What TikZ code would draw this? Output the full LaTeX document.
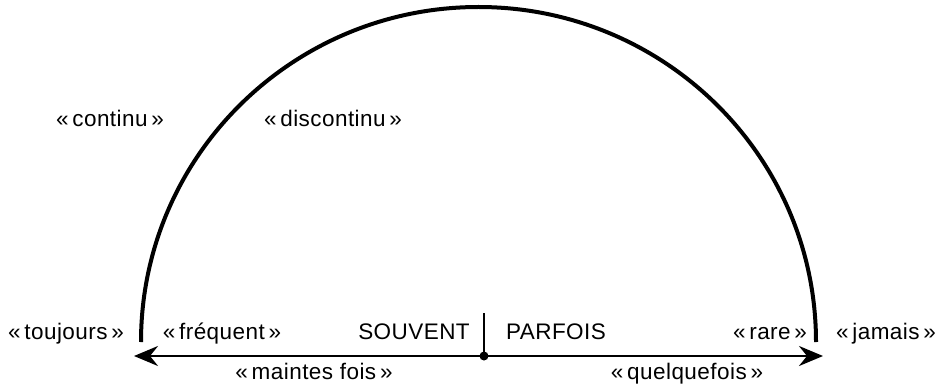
\documentclass[tikz,border=0pt]{standalone}
\usepackage{fontspec}
\setmainfont{Liberation Sans}[LetterSpace=2]
\usetikzlibrary{arrows.meta,positioning}

\begin{document}
\begin{tikzpicture}[
		x=1pt, y=-1pt,
		lbl/.style={inner sep=0pt, anchor=base, font=\fontsize{22.5}{26}\selectfont},
		scale line/.style={line width=2.8pt},
		curve/.style={line width=4pt},
		>={Stealth[length=24pt,width=20pt,inset=8pt]}
	]
	\useasboundingbox (0,0) rectangle (944,385);

	% axis
	\coordinate (mid) at (484,356);
	\coordinate (midtop) at (484,313);
	\coordinate (left) at (134,356);
	\coordinate (right) at (823,356);
	\coordinate (arcL) at (141,342);

	\draw[curve] (arcL) arc[start angle=180, end angle=360, x radius=337.5, y radius=335] coordinate (arcR);

	\draw[scale line,->] (mid) -- (left);
	\draw[scale line,->] (mid) -- (right);
	\draw[line width=1.6pt] (mid) -- (midtop);
	\fill (mid) circle (4.5pt);

	% labels
	\node[lbl] (continu) at (110,126) {«\,continu\,»};
	\node[lbl] (discontinu) at (333,127) {«\,discontinu\,»};
	\node[lbl] (toujours) at (66,339) {«\,toujours\,»};
	\node[lbl] (frequent) at (222,339) {«\,fréquent\,»};
	\node[lbl] (souvent) at (414,339) {SOUVENT};
	\node[lbl] (parfois) at (556,339) {PARFOIS};
	\node[lbl] (rare) at (770,339) {«\,rare\,»};
	\node[lbl] (jamais) at (886,339) {«\,jamais\,»};
	\node[lbl] (maintes) at (314,379) {«\,maintes fois\,»};
	\node[lbl] (quelquefois) at (687,379) {«\,quelquefois\,»};
\end{tikzpicture}
\end{document}
